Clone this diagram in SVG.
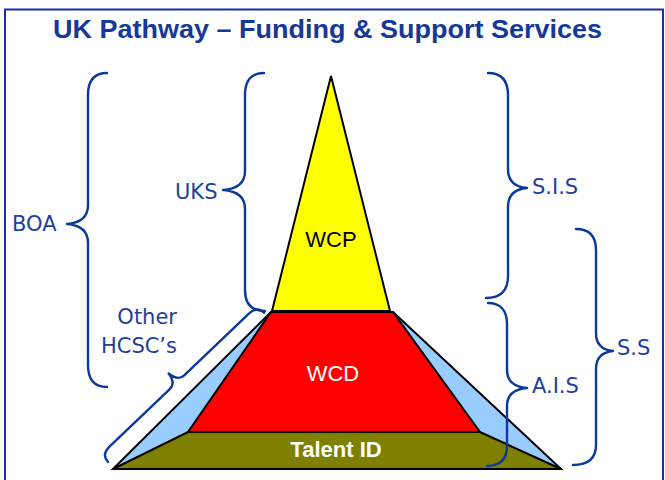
<svg xmlns="http://www.w3.org/2000/svg" width="665" height="480" viewBox="0 0 665 480">
<style>
.brace{fill:none;stroke:#0B3A9C;stroke-width:2.4;stroke-linecap:round;stroke-linejoin:round}
.lbl{font-family:"DejaVu Sans","Liberation Sans",sans-serif;font-size:21px;fill:#1E3F9A}
.lay{stroke:#000;stroke-width:2;stroke-linejoin:miter}
.in{font-family:"Liberation Sans",Arial,sans-serif;font-size:22px;text-anchor:middle}
</style>
<rect x="0" y="0" width="665" height="480" fill="#fff"/>
<rect id="frame" x="5" y="9.5" width="658" height="490" fill="none" stroke="#1A2DB3" stroke-width="2"/>
<text id="title" x="327.5" y="38" text-anchor="middle" textLength="549" lengthAdjust="spacingAndGlyphs" font-family="'Liberation Sans',Arial,sans-serif" font-weight="bold" font-size="25.5" fill="#15389A">UK Pathway – Funding &amp; Support Services</text>

<g id="pyramid">
  <g id="sides"><polygon class="lay" points="271,312 393,312 561,469 113,469" fill="#99CCFF"/></g>
  <g id="talent-id">
    <polygon class="lay" points="113,469 188,432 480,432 561,469" fill="#808000"/>
    <text class="in" x="336" y="457" font-weight="bold" fill="#fff">Talent ID</text>
  </g>
  <g id="wcd">
    <polygon class="lay" points="271,312 393,312 480,432 188,432" fill="#FF0000"/>
    <text class="in" x="333" y="381" fill="#fff">WCD</text>
  </g>
  <g id="wcp">
    <polygon class="lay" points="331,76 390,311 272,311" fill="#FFFF00"/>
    <text class="in" x="331" y="247" fill="#000">WCP</text>
  </g>
</g>

<g id="connectors">
  <path id="brace-boa" class="brace" d="M107,73 C95,73 88,80 88,95 L88,205 C88,217 80,223 67,224 C80,225 88,231 88,243 L88,365 C88,380 95,387 107,387"/>
  <path id="brace-uks" class="brace" d="M264,73 C252,73 245,80 245,95 L245,171 C245,183 237,189 223,190 C237,191 245,197 245,209 L245,290 C245,304 252,311 265,311"/>
  <path id="brace-other" class="brace" transform="translate(108,462) rotate(-43.7)" d="M0,0 C0,-7 4,-10 12,-10 L95,-10 C101,-10 104,-14 105,-22 C106,-14 109,-10 115,-10 L204,-10 C212,-10 216,-7 216,0"/>
  <path id="brace-sis" class="brace" d="M488,73 C501,73 508,80 508,95 L508,169 C508,181 515,187 527,188 C515,189 508,195 508,207 L508,276 C508,291 500,298 486,298"/>
  <path id="brace-ais" class="brace" d="M488,303 C500,303 507,310 507,324 L507,370 C507,382 515,387 527,388 C515,389 507,394 507,406 L507,446 C507,460 500,466 487,466"/>
  <path id="brace-ss" class="brace" d="M576,229 C589,229 596,236 596,250 L596,333 C596,345 603,350 613,351 C603,352 596,357 596,369 L596,445 C596,459 588,465 573,465"/>
</g>

<g id="labels">
  <text id="boa" class="lbl" x="12" y="231">BOA</text>
  <text id="uks" class="lbl" x="175" y="199">UKS</text>
  <text id="other" class="lbl" x="177" y="324" text-anchor="end">Other</text>
  <text id="hcsc" class="lbl" x="177" y="353" text-anchor="end">HCSC’s</text>
  <text id="sis" class="lbl" x="532" y="194">S.I.S</text>
  <text id="ais" class="lbl" x="532" y="393">A.I.S</text>
  <text id="ss" class="lbl" x="617" y="355">S.S</text>
</g>
</svg>
